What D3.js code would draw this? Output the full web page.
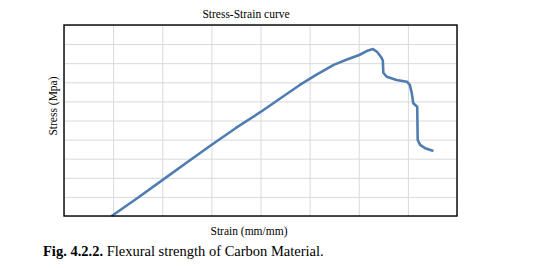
<!DOCTYPE html>
<html>
<head>
<meta charset="utf-8">
<script src="https://cdn.jsdelivr.net/npm/d3@7"></script>
<style>
  body { margin: 0; background: #fff; }
  text { font-family: "Times New Roman", "Liberation Serif", serif; fill: #000; }
</style>
</head>
<body>
<div id="chart"></div>
<script>
// values (strain in mm/mm, stress in MPa, no tick labels shown)
const strain = [0.0097, 0.0149, 0.0201, 0.0250, 0.0300, 0.0350, 0.0401, 0.0440, 0.0480, 0.0515,
                0.0549, 0.0576, 0.0601, 0.0619, 0.0629, 0.0637, 0.0645, 0.0649, 0.0650, 0.0657,
                0.0677, 0.0698, 0.0704, 0.0708, 0.0711, 0.0719, 0.0720, 0.0725, 0.0735, 0.0752];
const stress = [0, 9.3, 18.9, 28.0, 37.2, 46.1, 54.6, 61.5, 68.6, 74.1,
                79.1, 81.9, 84.3, 86.7, 87.4, 86.0, 83.4, 81.4, 75.0, 72.9,
                71.2, 70.3, 68.6, 64.2, 59.0, 57.2, 39.8, 37.2, 35.5, 34.0];
const xTicks = d3.range(0, 0.0801, 0.01);
const yTicks = d3.range(0, 100.1, 10);

const width = 537, height = 268;
const margin = {top: 25, right: 80, bottom: 52, left: 64};

const svg = d3.select("#chart").append("svg")
  .attr("width", width)
  .attr("height", height);

const x = d3.scaleLinear().domain([0, 0.08]).range([margin.left, width - margin.right]);
const y = d3.scaleLinear().domain([0, 100]).range([height - margin.bottom, margin.top]);

// grid
svg.append("g")
  .attr("transform", `translate(0,${height - margin.bottom})`)
  .call(d3.axisBottom(x).tickValues(xTicks).tickSize(-(height - margin.top - margin.bottom)).tickFormat(""))
  .call(g => g.select(".domain").remove())
  .call(g => g.selectAll("line").attr("stroke", "#d9d9d9"));

svg.append("g")
  .attr("transform", `translate(${margin.left},0)`)
  .call(d3.axisLeft(y).tickValues(yTicks).tickSize(-(width - margin.left - margin.right)).tickFormat(""))
  .call(g => g.select(".domain").remove())
  .call(g => g.selectAll("line").attr("stroke", "#d9d9d9"));

const data = strain.map((s, i) => [s, stress[i]]);

svg.append("path")
  .datum(data)
  .attr("fill", "none")
  .attr("stroke", "#4f7db1")
  .attr("stroke-width", 2.6)
  .attr("stroke-linejoin", "round")
  .attr("d", d3.line().x(d => x(d[0])).y(d => y(d[1])));

// frame
svg.append("rect")
  .attr("x", margin.left)
  .attr("y", margin.top)
  .attr("width", width - margin.left - margin.right)
  .attr("height", height - margin.top - margin.bottom)
  .attr("fill", "none")
  .attr("stroke", "#000")
  .attr("stroke-width", 1.4);

svg.append("text")
  .attr("x", 246).attr("y", 18)
  .attr("text-anchor", "middle")
  .style("font-size", "11.5px")
  .text("Stress-Strain curve");

svg.append("text")
  .attr("transform", "translate(57,106) rotate(-90)")
  .attr("text-anchor", "middle")
  .style("font-size", "11.5px")
  .text("Stress (Mpa)");

svg.append("text")
  .attr("x", 249).attr("y", 235)
  .attr("text-anchor", "middle")
  .style("font-size", "11.5px")
  .text("Strain (mm/mm)");

const cap = svg.append("text")
  .attr("x", 43).attr("y", 256)
  .style("font-size", "14.5px");
cap.append("tspan").style("font-weight", "bold").text("Fig. 4.2.2.");
cap.append("tspan").text(" Flexural strength of Carbon Material.");
</script>
</body>
</html>
